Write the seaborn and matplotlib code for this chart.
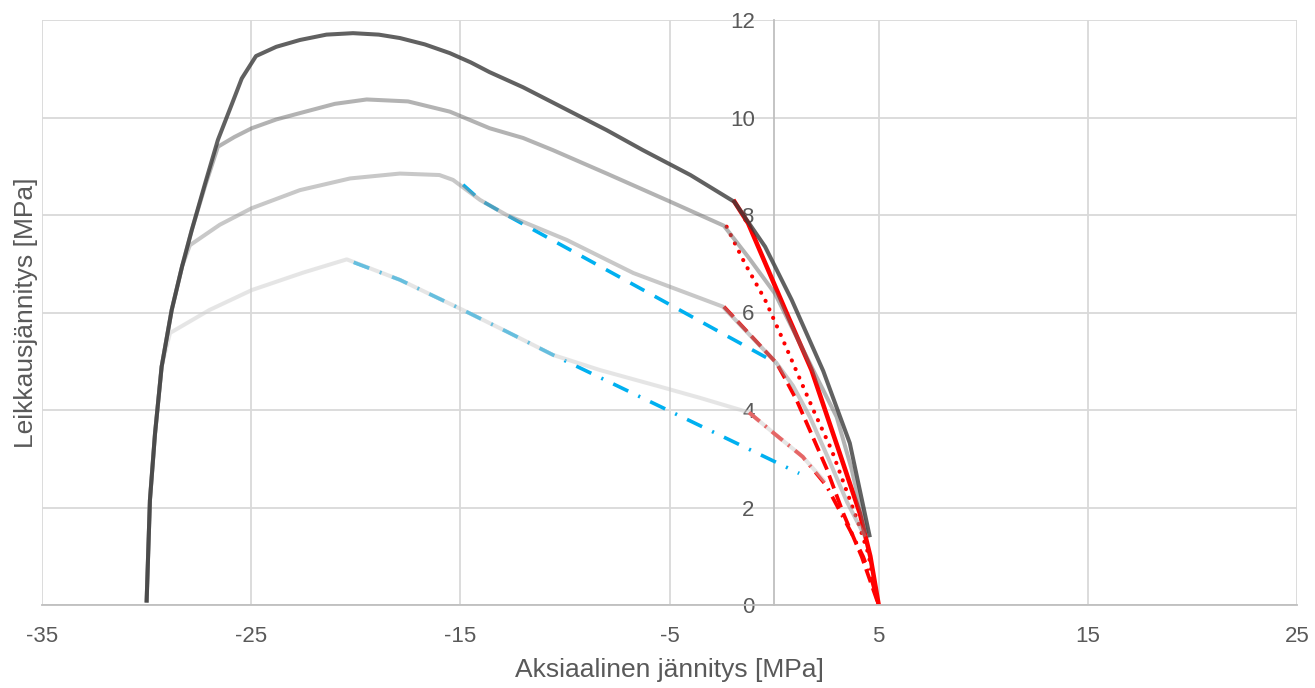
import matplotlib
matplotlib.use("Agg")
import matplotlib.pyplot as plt
import seaborn as sns
import pandas as pd

# gray interaction curves (axial stress x, shear stress y)
dark_x = [-30.0, -29.84, -29.6, -29.28, -28.8, -28.3, -27.84, -27.2, -26.59, -25.9, -25.45, -24.77,
          -23.8, -22.67, -21.4, -20.13, -18.9, -17.89, -16.7, -15.5, -14.5, -13.6, -12.0, -10.0,
          -8.0, -6.27, -4.0, -1.9, -0.43, 0.84, 2.35, 3.62, 4.58]
dark_y = [0.05, 2.15, 3.5, 4.89, 6.05, 6.95, 7.69, 8.65, 9.54, 10.3, 10.8, 11.26,
          11.45, 11.59, 11.7, 11.73, 11.7, 11.63, 11.5, 11.32, 11.13, 10.93, 10.62, 10.18,
          9.74, 9.33, 8.82, 8.27, 7.35, 6.26, 4.8, 3.32, 1.39]

med_x = [-30.0, -29.84, -29.6, -29.28, -28.8, -28.3, -27.84, -27.2, -26.59, -25.8, -24.97, -23.8,
         -22.67, -21.0, -19.48, -17.5, -15.5, -13.6, -12.0, -10.57, -8.0, -5.0, -2.4, -1.24,
         0.04, 1.31, 2.1, 2.99, 3.7, 4.42]
med_y = [0.05, 2.15, 3.5, 4.89, 6.05, 6.95, 7.69, 8.6, 9.4, 9.6, 9.78, 9.96,
         10.09, 10.28, 10.37, 10.33, 10.12, 9.78, 9.58, 9.33, 8.85, 8.28, 7.78, 7.14,
         6.39, 5.3, 4.62, 3.86, 2.8, 1.47]

light_x = [-30.0, -29.84, -29.6, -29.28, -28.8, -28.3, -27.93, -26.5, -24.97, -22.67, -20.27, -17.89,
           -16.0, -15.35, -14.06, -12.79, -9.92, -6.73, -2.45, 0.12, 0.9, 1.71, 2.6, 3.5, 4.35]
light_y = [0.05, 2.15, 3.5, 4.89, 6.05, 6.95, 7.38, 7.8, 8.14, 8.51, 8.75, 8.85,
           8.82, 8.72, 8.31, 8.0, 7.49, 6.81, 6.12, 4.96, 4.5, 3.86, 3.0, 2.1, 1.4]

pale_x = [-30.0, -29.84, -29.6, -29.28, -28.88, -27.0, -24.97, -22.5, -20.43, -17.89, -14.87, -12.79,
          -10.57, -8.33, -5.46, -3.55, -1.2, 0.0, 1.37, 2.43]
pale_y = [0.05, 2.15, 3.5, 4.89, 5.58, 6.05, 6.46, 6.82, 7.09, 6.67, 6.05, 5.61,
          5.13, 4.82, 4.48, 4.25, 3.95, 3.52, 3.04, 2.53]

# blue reduced curves
blue_dash_x = [-14.87, -14.06, -12.79, 0.12]
blue_dash_y = [8.62, 8.31, 8.0, 4.96]
blue_dashdot_x = [-20.1, -17.89, -14.87, -12.79, -10.57, 1.2]
blue_dashdot_y = [7.03, 6.67, 6.05, 5.61, 5.13, 2.7]

# red curves
red_solid_x = [-1.95, -1.24, -0.28, 0.68, 1.79, 3.14, 4.1, 4.6, 5.0]
red_solid_y = [8.31, 7.83, 6.87, 5.91, 4.82, 3.11, 1.88, 1.0, 0.0]
red_dot_x = [-2.27, -1.4, -0.43, 0.36, 1.39, 1.95, 2.75, 3.39, 4.03, 4.5, 5.0]
red_dot_y = [7.76, 7.01, 6.26, 5.5, 4.48, 3.93, 3.18, 2.43, 1.68, 1.06, 0.0]
red_dash_x = [-2.4, 0.12, 0.52, 1.08, 1.95, 2.51, 3.31, 4.19, 5.0]
red_dash_y = [6.12, 4.96, 4.65, 4.2, 3.35, 2.8, 1.88, 0.99, 0.0]
red_dashdot_x = [-1.2, 0.0, 1.37, 2.5, 3.71, 4.26, 4.66, 5.0]
red_dashdot_y = [3.95, 3.52, 3.04, 2.45, 1.47, 0.99, 0.53, 0.0]

x_ticks = [-35, -25, -15, -5, 5, 15, 25]
y_ticks = [0, 2, 4, 6, 8, 10, 12]

sns.set_theme(style="whitegrid")
plt.rcParams['font.family'] = ['Liberation Sans', 'DejaVu Sans']
plt.rcParams['lines.scale_dashes'] = False
text_color = '#595959'

fig = plt.figure(figsize=(13.15, 6.88), dpi=100)
ax = fig.add_axes([42 / 1315, 83 / 688, 1255 / 1315, 585 / 688])


def draw(xs, ys, color, lw, ls='-', alpha=1.0, z=2, cap='butt'):
    df = pd.DataFrame({'x': xs, 'y': ys})
    sns.lineplot(data=df, x='x', y='y', sort=False, estimator=None, ax=ax,
                 color=color, linewidth=lw, linestyle=ls, alpha=alpha, zorder=z,
                 dash_capstyle=cap, solid_capstyle='butt', solid_joinstyle='round')


blue = '#00b0f0'
red = '#ff0000'
draw(blue_dash_x, blue_dash_y, blue, 2.6, (0, (11.5, 8.5)))
draw(blue_dashdot_x, blue_dashdot_y, blue, 2.6, (0, (12, 8, 1.5, 8)))
draw(red_dashdot_x, red_dashdot_y, red, 2.7, (0, (10, 5, 1.5, 5)))
draw(red_dash_x, red_dash_y, red, 2.7, (0, (10, 4.5)))
draw(red_dot_x, red_dot_y, red, 3.0, (0, (0.1, 6.6)), cap='round')
draw(red_solid_x, red_solid_y, red, 3.3)

# gray curves drawn on top, semi transparent
draw(pale_x, pale_y, '#cdcdcd', 2.9, alpha=0.5, z=3)
draw(light_x, light_y, '#929292', 2.9, alpha=0.5, z=3)
draw(med_x, med_y, '#686868', 2.9, alpha=0.5, z=3)
draw(dark_x, dark_y, '#3a3a3a', 2.9, alpha=0.8, z=3)

ax.set_xlim(-35, 25)
ax.set_ylim(0, 12)
ax.set_xticks(x_ticks)
ax.set_yticks(y_ticks)
ax.set_xticklabels([str(v) for v in x_ticks])
ax.set_yticklabels([str(v) for v in y_ticks])
ax.grid(True, color='#d9d9d9', linewidth=1.3)
ax.set_axisbelow(True)

for s in ['top', 'right']:
    ax.spines[s].set_visible(False)
ax.spines['left'].set_position(('data', 0))
ax.spines['left'].set_color('#bfbfbf')
ax.spines['left'].set_linewidth(1.3)
ax.spines['left'].set_zorder(1)
ax.spines['bottom'].set_color('#bfbfbf')
ax.spines['bottom'].set_linewidth(1.3)

ax.tick_params(axis='both', length=0, labelsize=16, labelcolor=text_color)
ax.tick_params(axis='x', pad=15)
ax.tick_params(axis='y', pad=14)

ax.set_xlabel('Aksiaalinen jännitys [MPa]', fontsize=19, color=text_color)
ax.set_ylabel('Leikkausjännitys [MPa]', fontsize=19, color=text_color)
ax.xaxis.set_label_coords(0.5, -0.09)
ax.yaxis.set_label_coords(-0.003, 0.5)

fig.savefig('out.png', dpi=100)
